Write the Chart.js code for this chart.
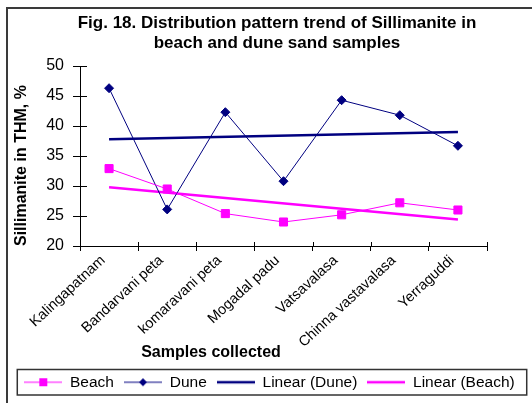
<!DOCTYPE html>
<html>
<head>
<meta charset="utf-8">
<script src="https://cdn.jsdelivr.net/npm/chart.js@4.4.1/dist/chart.umd.min.js"></script>
<style>
  html, body { margin: 0; padding: 0; background: #fff; }
  #wrap { width: 532px; height: 403px; overflow: hidden; }
</style>
</head>
<body>
<div id="wrap"><canvas id="myChart" width="532" height="403"></canvas></div>
<script>
const samples = ['Kalingapatnam', 'Bandarvani peta', 'komaravani peta', 'Mogadal padu',
                 'Vatsavalasa', 'Chinna vastavalasa', 'Yerraguddi'];
const beach = [32.9, 29.5, 25.4, 24.0, 25.2, 27.2, 26.0];
const dune = [46.3, 26.1, 42.3, 30.8, 44.3, 41.8, 36.7];
// trend lines, end values
const duneTrend = [37.8, null, null, null, null, null, 39.0];
const beachTrend = [29.8, null, null, null, null, null, 24.4];
const yTicks = [20, 25, 30, 35, 40, 45, 50];

const titleLines = ['Fig. 18. Distribution pattern trend of Sillimanite in', 'beach and dune sand samples'];
const FONT = 'Arial, "Liberation Sans", sans-serif';

// little legend pictures: line with marker in the middle
function legendPic(color, lineW, marker) {
  const c = document.createElement('canvas');
  c.width = 38; c.height = 12;
  const g = c.getContext('2d');
  g.strokeStyle = color; g.lineWidth = lineW;
  g.beginPath(); g.moveTo(0, 6); g.lineTo(38, 6); g.stroke();
  g.fillStyle = color;
  if (marker === 'square') g.fillRect(15, 2, 8, 8);
  if (marker === 'diamond') {
    g.beginPath(); g.moveTo(19, 2); g.lineTo(23, 6); g.lineTo(19, 10); g.lineTo(15, 6); g.closePath(); g.fill();
  }
  return c;
}
const pics = [
  legendPic('#ff00ff', 1, 'square'),
  legendPic('#000080', 1, 'diamond'),
  legendPic('#000080', 2.5, null),
  legendPic('#ff00ff', 2.5, null)
];

const extras = {
  id: 'extras',
  afterDraw(chart) {
    const ctx = chart.ctx;
    const x = chart.scales.x, y = chart.scales.y;
    ctx.save();
    // outer frame
    ctx.strokeStyle = '#3a3a3a'; ctx.lineWidth = 2;
    ctx.strokeRect(7, 8, 600, 500);
    // title
    ctx.fillStyle = '#000';
    ctx.font = 'bold 17px ' + FONT;
    ctx.textAlign = 'center'; ctx.textBaseline = 'middle';
    ctx.fillText(titleLines[0], 277, 23);
    ctx.fillText(titleLines[1], 277, 43);
    // x axis title
    ctx.font = 'bold 16px ' + FONT;
    ctx.fillText('Samples collected', x.left + 131, 353);
    // inner half of the cross tick marks
    ctx.strokeStyle = '#000'; ctx.lineWidth = 1;
    ctx.beginPath();
    yTicks.forEach(v => {
      const py = Math.round(y.getPixelForValue(v)) + 0.5;
      ctx.moveTo(x.left, py); ctx.lineTo(x.left + 7, py);
    });
    const step = (x.right - x.left) / samples.length;
    for (let i = 1; i <= samples.length; i++) {
      const px = Math.round(x.left + i * step) + 0.5;
      ctx.moveTo(px, y.bottom); ctx.lineTo(px, y.bottom - 4);
    }
    ctx.stroke();
    // legend box
    const lg = chart.legend;
    if (lg && lg.legendHitBoxes.length) {
      const hb = lg.legendHitBoxes;
      const l = hb[0].left - 7;
      const r = hb[hb.length - 1].left + hb[hb.length - 1].width + 12;
      ctx.strokeStyle = '#333'; ctx.lineWidth = 1.5;
      ctx.strokeRect(l, hb[0].top - 5, r - l, hb[0].height + 10);
    }
    ctx.restore();
  }
};

const data = {
  labels: samples,
  datasets: [
    {
      label: 'Beach', data: beach,
      borderColor: '#ff00ff', backgroundColor: '#ff00ff', borderWidth: 1,
      pointStyle: 'rect', pointRadius: 5.7, pointHoverRadius: 5.7, tension: 0
    },
    {
      label: 'Dune', data: dune,
      borderColor: '#000080', backgroundColor: '#000080', borderWidth: 1,
      pointStyle: 'rectRot', pointRadius: 4.5, pointHoverRadius: 4.5, tension: 0
    },
    {
      label: 'Linear (Dune)', data: duneTrend, spanGaps: true,
      borderColor: '#000080', borderWidth: 2.5, pointRadius: 0, tension: 0
    },
    {
      label: 'Linear (Beach)', data: beachTrend, spanGaps: true,
      borderColor: '#ff00ff', borderWidth: 2.5, pointRadius: 0, tension: 0
    }
  ]
};

const config = {
  type: 'line',
  data: data,
  plugins: [extras],
  options: {
    responsive: false,
    animation: false,
    layout: { padding: { left: 12, right: 5, top: 66, bottom: 3 } },
    plugins: {
      title: { display: false },
      tooltip: { enabled: false },
      legend: {
        position: 'bottom',
        labels: {
          usePointStyle: true,
          pointStyleWidth: 38,
          boxHeight: 12,
          padding: 10,
          color: '#000',
          font: { family: FONT, size: 15.5 },
          generateLabels(chart) {
            return chart.data.datasets.map((ds, i) => ({
              text: ds.label, datasetIndex: i, pointStyle: pics[i],
              fontColor: '#000', lineWidth: 0, hidden: false
            }));
          }
        }
      }
    },
    scales: {
      x: {
        offset: true,
        grid: { offset: true, drawOnChartArea: false, tickLength: 5, color: '#000' },
        border: { color: '#000', width: 1 },
        ticks: {
          minRotation: 43, maxRotation: 43, autoSkip: false,
          labelOffset: -6, padding: 1,
          color: '#000', font: { family: FONT, size: 14.5 }
        },
        afterFit(scale) { scale.height = 118.5; }
      },
      y: {
        min: 20, max: 50,
        grid: { drawOnChartArea: false, tickLength: 7, color: '#000' },
        border: { color: '#000', width: 1 },
        ticks: { stepSize: 5, padding: 9, color: '#000', font: { family: FONT, size: 16 } },
        title: {
          display: true, text: 'Sillimanite in THM, %', align: 'start',
          color: '#000', font: { family: FONT, size: 16, weight: 'bold' }, padding: { top: 0, bottom: 0 }
        },
        afterFit(scale) { scale.width = 68; }
      },
      // empty right-hand axis, only keeps the plot away from the right edge
      yRight: {
        position: 'right', min: 20, max: 50,
        grid: { display: false }, border: { display: false }, ticks: { display: false },
        afterFit(scale) { scale.width = 40; }
      }
    }
  }
};

const myChart = new Chart(document.getElementById('myChart'), config);
</script>
</body>
</html>
